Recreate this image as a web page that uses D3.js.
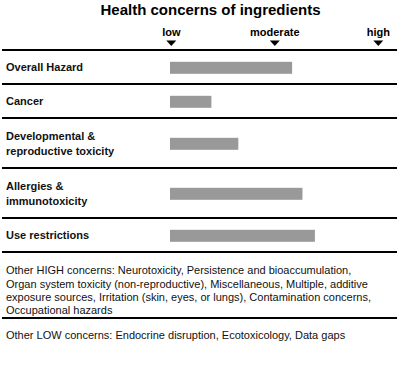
<!DOCTYPE html>
<html>
<head>
<meta charset="utf-8">
<script src="https://cdn.jsdelivr.net/npm/d3@7"></script>
<style>
  html, body { margin: 0; padding: 0; background: #fff; }
  svg { display: block; }
</style>
</head>
<body>
<svg id="chart" width="400" height="374"></svg>
<script>
// data (score 0..10, low..high)
const categories = [
  ['Overall Hazard'],
  ['Cancer'],
  ['Developmental &', 'reproductive toxicity'],
  ['Allergies &', 'immunotoxicity'],
  ['Use restrictions'],
];
const scores = [5.9, 2.0, 3.3, 6.4, 7.0];
const tickValues = [0, 5, 10];
const tickLabels = ['low', 'moderate', 'high'];
const highNote = [
  'Other HIGH concerns: Neurotoxicity, Persistence and bioaccumulation,',
  'Organ system toxicity (non-reproductive), Miscellaneous, Multiple, additive',
  'exposure sources, Irritation (skin, eyes, or lungs), Contamination concerns,',
  'Occupational hazards',
];
const lowNote = ['Other LOW concerns: Endocrine disruption, Ecotoxicology, Data gaps'];

const font = 'Liberation Sans, Arial, sans-serif';
const svg = d3.select('#chart');
const x = d3.scaleLinear().domain([0, 10]).range([170, 377]);

svg.append('text').attr('x', 210.5).attr('y', 14.5).attr('text-anchor', 'middle')
  .attr('font-family', font).attr('font-weight', 'bold').attr('font-size', 15)
  .attr('fill', '#000').text('Health concerns of ingredients');

// axis markers
tickValues.forEach((t, i) => {
  const xx = x(t) + 1.3;
  svg.append('text').attr('x', xx).attr('y', 35.5).attr('text-anchor', 'middle')
    .attr('font-family', font).attr('font-weight', 'bold').attr('font-size', 11)
    .attr('fill', '#000').text(tickLabels[i]);
  svg.append('path').attr('d', `M${xx - 5},40.5 L${xx + 5},40.5 L${xx},46 Z`).attr('fill', '#000');
});

// rows
const rowsTop = 50;
let rowY = rowsTop;
const rows = categories.map((lines, i) => {
  const h = 18 + 16 * lines.length;
  const r = { lines, value: scores[i], y0: rowY, y1: rowY + h };
  rowY += h;
  return r;
});

const rule = yy => svg.append('line').attr('x1', 2).attr('x2', 397).attr('y1', yy).attr('y2', yy)
  .attr('stroke', '#000').attr('stroke-width', 1.8);
rule(rowsTop);

rows.forEach(r => {
  const mid = (r.y0 + r.y1) / 2 + 0.8;
  svg.append('rect').attr('x', x(0)).attr('y', mid - 6).attr('width', x(r.value) - x(0)).attr('height', 12)
    .attr('fill', '#999999');
  const t = svg.append('text').attr('font-family', font).attr('font-weight', 'bold').attr('font-size', 11)
    .attr('fill', '#111');
  r.lines.forEach((s, k) => {
    t.append('tspan').attr('x', 6).attr('y', mid + 3.5 - 7.2 * (r.lines.length - 1) + 14.4 * k).text(s);
  });
  rule(r.y1);
});

// footnotes
const note = (lines, y0) => {
  const t = svg.append('text').attr('font-family', font).attr('font-size', 11).attr('fill', '#111');
  lines.forEach((s, k) => t.append('tspan').attr('x', 6).attr('y', y0 + 13.3 * k).text(s));
};
note(highNote, 274.3);
rule(318);
note(lowNote, 339);
</script>
</body>
</html>
